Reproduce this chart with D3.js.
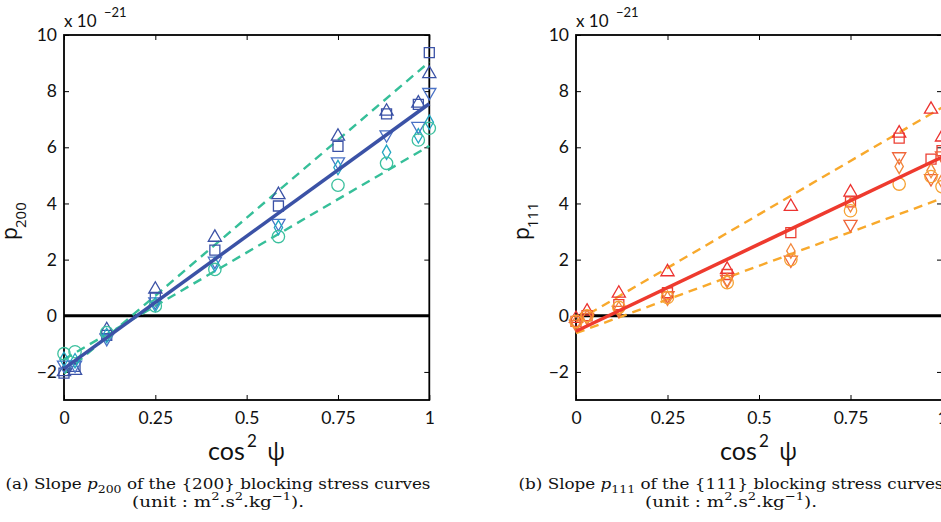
<!DOCTYPE html>
<html><head><meta charset="utf-8">
<script src="https://cdn.jsdelivr.net/npm/d3@7/dist/d3.min.js"></script>
<style>body{margin:0;background:#fff} svg{display:block}</style>
</head><body>
<svg id="c" width="941" height="522"></svg>
<script>
// ---------- DATA ----------
const cos2psi = [0, 0.0302, 0.117, 0.25, 0.413, 0.587, 0.75, 0.883, 0.970, 1];
const xTicks = [0, 0.25, 0.5, 0.75, 1];
const xTickLabels = ["0", "0.25", "0.5", "0.75", "1"];
const yTicks = [-2, 0, 2, 4, 6, 8, 10];
const yTickLabels = ["\u22122", "0", "2", "4", "6", "8", "10"];
const markerKinds = ["square", "triUp", "triDown", "diamond", "circle"];

// p200 (x 1e-21)
const p200_square  = [-2.04, -1.80, -0.70, 0.65, 2.34, 3.91, 6.03, 7.19, 7.53, 9.37];
const p200_triUp   = [-2.00, -1.95, -0.50, 0.94, 2.79, 4.31, 6.39, 7.28, 7.57, 8.62];
const p200_triDown = [-1.75, -1.75, -0.80, 0.50, 1.95, 3.30, 5.49, 6.45, 6.75, 7.96];
const p200_diamond = [-1.55, -1.60, -0.70, 0.40, 1.83, 3.14, 5.28, 5.82, 6.41, 6.89];
const p200_circle  = [-1.35, -1.28, -0.60, 0.35, 1.65, 2.82, 4.65, 5.43, 6.26, 6.68];
// fitted lines: value at cos2psi = 0 and at cos2psi = 1
const p200_fit   = [-1.88, 7.55];
const p200_upper = [-2.06, 9.04];
const p200_lower = [-1.55, 6.05];

// p111 (x 1e-21)
const p111_square  = [-0.20, 0.00, 0.40, 0.82, 1.47, 2.96, 4.06, 6.33, 5.58, 5.88];
const p111_triUp   = [-0.10, 0.16, 0.80, 1.56, 1.65, 3.89, 4.40, 6.50, 7.35, 6.36];
const p111_triDown = [-0.30, -0.05, 0.20, 0.72, 1.30, 1.99, 3.26, 5.67, 4.89, 5.70];
const p111_diamond = [-0.25, -0.05, 0.25, 0.62, 1.25, 2.31, 3.95, 5.32, 5.17, 4.80];
const p111_circle  = [-0.20, 0.00, 0.30, 0.65, 1.18, 2.00, 3.74, 4.69, 4.96, 4.60];
const p111_fit   = [-0.55, 5.65];
const p111_upper = [-0.20, 7.42];
const p111_lower = [-0.62, 4.18];

// ---------- DRAW ----------
const svg = d3.select("#c");
const tickFont = "Lato, 'Open Sans', sans-serif";
const labelFont = "'Open Sans', Lato, sans-serif";
const serif = "'DejaVu Serif', 'Liberation Serif', serif";

const panels = [
  { x0: 64, x1: 429.3, sub: "200",
    series: [p200_square, p200_triUp, p200_triDown, p200_diamond, p200_circle],
    colors: ["#3b52a6", "#3b52a6", "#4a72c6", "#22a6c2", "#3cc09e"],
    fit: p200_fit, upper: p200_upper, lower: p200_lower,
    fitColor: "#3b52a6", dashColor: "#36bf99",
    caption: ["(a) Slope ", "200", " of the {200} blocking stress curves"], capX: 218 },
  { x0: 576, x1: 942, sub: "111",
    series: [p111_square, p111_triUp, p111_triDown, p111_diamond, p111_circle],
    colors: ["#ec3f33", "#ec3330", "#f0663a", "#f2863a", "#f6a233"],
    fit: p111_fit, upper: p111_upper, lower: p111_lower,
    fitColor: "#ee3a2e", dashColor: "#f8a92c",
    caption: ["(b) Slope ", "111", " of the {111} blocking stress curves"], capX: 731 }
];

const symbolFor = {
  square:  { type: d3.symbolSquare, size: 100, rot: 0 },
  triUp:   { type: d3.symbolTriangle, size: 75, rot: 0 },
  triDown: { type: d3.symbolTriangle, size: 75, rot: 180 },
  diamond: { type: d3.symbolDiamond, size: 60, rot: 0 },
  circle:  { type: d3.symbolCircle, size: 120, rot: 0 }
};

panels.forEach(p => {
  const x = d3.scaleLinear().domain([0, 1]).range([p.x0, p.x1]);
  const y = d3.scaleLinear().domain([-3, 10]).range([400, 35]);
  const g = svg.append("g");

  // axes with inward ticks
  const ax = (gen, tr) => g.append("g").attr("transform", tr).call(gen)
      .call(s => s.select(".domain").remove())
      .call(s => s.selectAll("line").attr("stroke", "#000").attr("stroke-width", 1));
  ax(d3.axisBottom(x).tickValues(xTicks).tickSize(-5).tickFormat((d, i) => xTickLabels[i]).tickPadding(12), `translate(0,400)`)
    .selectAll("text").attr("font-family", tickFont).attr("font-size", 17.5).attr("fill", "#111");
  ax(d3.axisTop(x).tickValues(xTicks).tickSize(-5).tickFormat(""), `translate(0,35)`);
  ax(d3.axisLeft(y).tickValues(yTicks).tickSize(-5).tickFormat((d, i) => yTickLabels[i]).tickPadding(7), `translate(${p.x0},0)`)
    .selectAll("text").attr("font-family", tickFont).attr("font-size", 17.5).attr("fill", "#111");
  ax(d3.axisRight(y).tickValues(yTicks).tickSize(-5).tickFormat(""), `translate(${p.x1},0)`);

  // frame
  g.append("rect").attr("x", p.x0).attr("y", 35).attr("width", p.x1 - p.x0).attr("height", 365)
    .attr("fill", "none").attr("stroke", "#000").attr("stroke-width", 1.8);

  // zero line
  g.append("line").attr("x1", x(0)).attr("x2", x(1)).attr("y1", y(0)).attr("y2", y(0))
    .attr("stroke", "#000").attr("stroke-width", 3);

  // dashed bounds
  [p.upper, p.lower].forEach(l => {
    g.append("line").attr("x1", x(0)).attr("y1", y(l[0])).attr("x2", x(1)).attr("y2", y(l[1]))
      .attr("stroke", p.dashColor).attr("stroke-width", 2.4).attr("stroke-dasharray", "9,6");
  });

  // markers
  p.series.forEach((vals, si) => {
    const sy = symbolFor[markerKinds[si]];
    g.append("g").selectAll("path").data(vals).join("path")
      .attr("d", d3.symbol().type(sy.type).size(sy.size))
      .attr("transform", (v, i) => `translate(${x(cos2psi[i])},${y(v)}) rotate(${sy.rot})`)
      .attr("fill", "none").attr("stroke", p.colors[si]).attr("stroke-width", 1.3);
  });

  // fit line
  g.append("line").attr("x1", x(0)).attr("y1", y(p.fit[0])).attr("x2", x(1)).attr("y2", y(p.fit[1]))
    .attr("stroke", p.fitColor).attr("stroke-width", 3.5);

  // multiplier
  g.append("text").attr("x", p.x0).attr("y", 27).attr("font-family", tickFont).attr("font-size", 17)
    .attr("fill", "#111").text("x 10");
  g.append("text").attr("x", p.x0 + 40).attr("y", 17).attr("font-family", tickFont).attr("font-size", 13)
    .attr("fill", "#111").text("\u221221");

  // x label  (cos^2 psi)
  g.append("text").attr("x", p.x0 + 144).attr("y", 460).attr("font-family", tickFont)
    .attr("font-size", 25).attr("fill", "#111").text("cos");
  g.append("text").attr("x", p.x0 + 183).attr("y", 447).attr("font-family", tickFont)
    .attr("font-size", 17).attr("fill", "#111").text("2");
  g.append("text").attr("x", p.x0 + 203).attr("y", 460).attr("font-family", labelFont)
    .attr("font-size", 24).attr("fill", "#111").text("\u03c8");

  // y label
  const yl = g.append("g").attr("transform", `translate(${p.x0 - 47},${240}) rotate(-90)`);
  yl.append("text").attr("x", 0).attr("y", 0).attr("font-family", labelFont).attr("font-size", 21)
    .attr("fill", "#111").text("p");
  yl.append("text").attr("x", 12).attr("y", 9).attr("font-family", labelFont).attr("font-size", 15)
    .attr("fill", "#111").text(p.sub);

  // caption
  const c1 = g.append("text").attr("x", p.capX).attr("y", 489).attr("text-anchor", "middle")
    .attr("font-family", serif).attr("font-size", 15.5).attr("fill", "#111")
    .attr("textLength", 425).attr("lengthAdjust", "spacingAndGlyphs");
  c1.append("tspan").text(p.caption[0]);
  c1.append("tspan").attr("font-style", "italic").text("p");
  c1.append("tspan").attr("dy", 4).attr("font-size", 11.5).text(p.caption[1]);
  c1.append("tspan").attr("dy", -4).text(p.caption[2]);
  const c2 = g.append("text").attr("x", p.capX).attr("y", 507).attr("text-anchor", "middle")
    .attr("font-family", serif).attr("font-size", 15.5).attr("fill", "#111")
    .attr("textLength", 172).attr("lengthAdjust", "spacingAndGlyphs");
  c2.append("tspan").text("(unit : m");
  c2.append("tspan").attr("dy", -7).attr("font-size", 11).text("2");
  c2.append("tspan").attr("dy", 7).text(".s");
  c2.append("tspan").attr("dy", -7).attr("font-size", 11).text("2");
  c2.append("tspan").attr("dy", 7).text(".kg");
  c2.append("tspan").attr("dy", -7).attr("font-size", 11).text("\u22121");
  c2.append("tspan").attr("dy", 7).text(").");
});
</script>
</body></html>
